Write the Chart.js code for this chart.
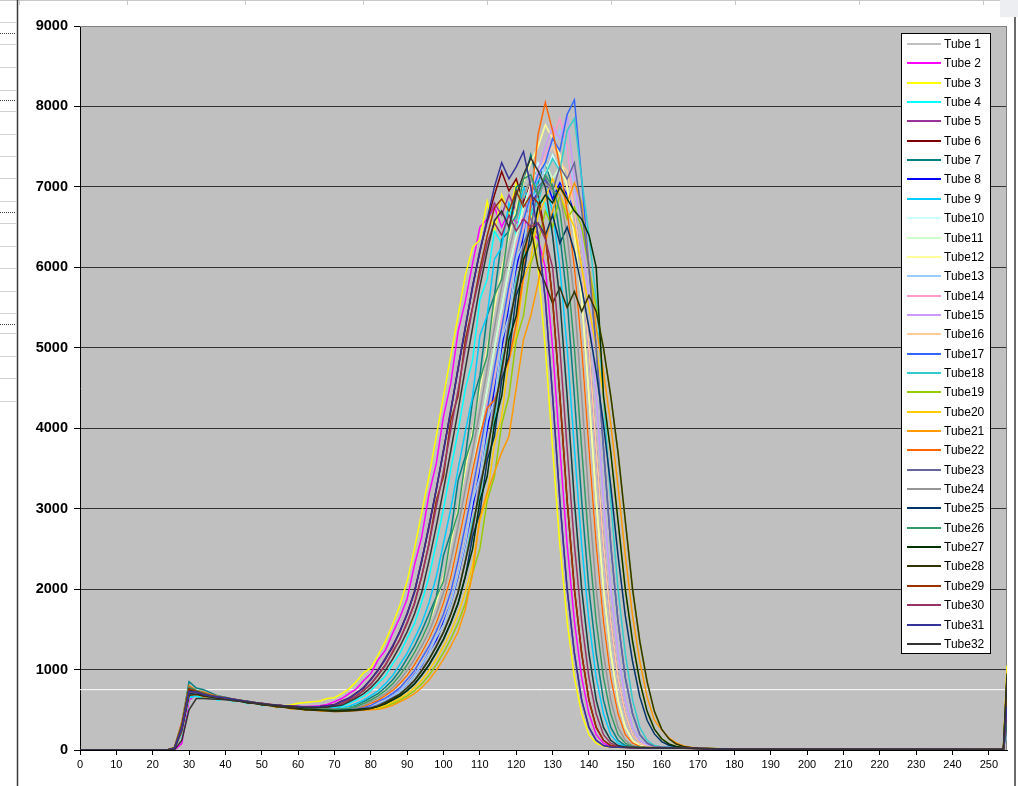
<!DOCTYPE html>
<html>
<head>
<meta charset="utf-8">
<title>Tube profiles</title>
<script src="https://cdn.jsdelivr.net/npm/chart.js@4.4.1/dist/chart.umd.min.js"></script>
<style>
  html, body { margin: 0; padding: 0; background: #fff; }
  #wrap { position: relative; width: 1018px; height: 786px; }
</style>
</head>
<body>
<div id="wrap"><canvas id="chart" width="1018" height="786"></canvas></div>
<script>
// ---------- data ----------
// channel positions shared by every tube
const bins = [0,
  24, 26, 28, 30, 32, 34, 36, 38, 40, 42, 44,
  46, 48, 50, 52, 54, 56, 58, 60, 62, 64, 66,
  68, 70, 72, 74, 76, 78, 80, 82, 84, 86,
  88, 90, 92, 94, 96, 98, 100, 102, 104, 106,
  108, 110, 112, 114, 116, 118, 120, 122, 124, 126,
  128, 130, 132, 134, 136, 138, 140, 142, 144, 146,
  148, 150, 152, 154, 156, 158, 160, 162, 164, 166,
  168, 170,
  180, 254, 255];

const tube01 = [0,
  0, 15, 240, 690, 700, 675, 665, 650, 640, 625, 610,
  600, 585, 570, 560, 555, 545, 535, 525, 520, 515, 510,
  505, 510, 505, 520, 525, 560, 590, 650, 690, 780,
  860, 1000, 1120, 1300, 1460, 1700, 1950, 2370, 2760, 3260,
  3700, 4240, 4720, 5270, 5740, 6220, 6560, 6880, 7050, 6900,
  7100, 6900, 6850, 6400, 5600, 4400, 3100, 2000, 1200, 620,
  280, 120, 55, 38, 33, 30, 28, 27, 25, 24,
  22, 20,
  10, 5, 400];
const tube02 = [0,
  0, 0, 80, 620, 690, 670, 665, 650, 645, 630, 610,
  600, 590, 575, 565, 560, 550, 545, 540, 540, 545, 550,
  565, 600, 640, 700, 760, 860, 950, 1120, 1240, 1450,
  1650, 1880, 2300, 2650, 3180, 3560, 4150, 4560, 5200, 5580,
  6050, 6500, 6600, 6750, 6500, 6700, 6550, 6600, 6450, 6350,
  6000, 5000, 3750, 2550, 1600, 900, 450, 190, 85, 45,
  36, 33, 30, 28, 27, 26, 25, 24, 23, 22,
  21, 20,
  10, 4, 300];
const tube03 = [0,
  0, 20, 260, 690, 700, 670, 660, 650, 640, 630, 605,
  600, 590, 570, 560, 560, 550, 560, 580, 590, 600, 610,
  640, 650, 700, 760, 850, 960, 1020, 1180, 1350, 1560,
  1800, 2100, 2500, 2950, 3400, 3900, 4400, 4900, 5400, 5900,
  6250, 6340, 6820, 6430, 6900, 6650, 7050, 6800, 6700, 6000,
  5000, 3750, 2550, 1600, 900, 450, 190, 85, 45, 35,
  32, 30, 28, 27, 26, 25, 24, 23, 22, 21,
  20, 20,
  12, 6, 1050];
const tube04 = [0,
  0, 10, 200, 650, 670, 640, 655, 620, 640, 600, 610,
  575, 590, 550, 565, 530, 545, 520, 530, 505, 525, 510,
  520, 535, 545, 580, 625, 670, 740, 830, 920, 1070,
  1200, 1390, 1570, 1840, 2150, 2570, 3000, 3490, 3960, 4490,
  4850, 5600, 5850, 6450, 6300, 6750, 6400, 6900, 6650, 6850,
  6800, 6400, 5600, 4400, 3100, 2000, 1200, 620, 280, 120,
  55, 38, 33, 30, 28, 27, 26, 25, 24, 22,
  21, 20,
  9, 4, 500];
const tube05 = [0,
  0, 20, 280, 720, 720, 690, 670, 660, 645, 630, 615,
  600, 585, 575, 565, 560, 550, 545, 540, 535, 530, 535,
  545, 560, 600, 650, 700, 780, 870, 1000, 1120, 1300,
  1460, 1700, 1950, 2370, 2760, 3250, 3700, 4240, 4720, 5270,
  5740, 6220, 6560, 6800, 6650, 6900, 6700, 6850, 6600, 6400,
  5600, 4400, 3100, 2000, 1200, 620, 280, 120, 55, 38,
  33, 30, 28, 27, 26, 25, 24, 23, 22, 21,
  20, 19,
  10, 5, 600];
const tube06 = [0,
  0, 25, 300, 740, 720, 690, 675, 660, 650, 635, 620,
  605, 590, 580, 570, 560, 550, 545, 540, 535, 535, 540,
  550, 565, 610, 640, 710, 770, 880, 990, 1140, 1280,
  1480, 1690, 1970, 2340, 2790, 3230, 3730, 4210, 4750, 5240,
  5770, 6190, 6580, 6900, 7190, 6950, 7100, 6800, 7050, 6900,
  6400, 5600, 4400, 3100, 2000, 1200, 620, 280, 120, 55,
  38, 33, 30, 28, 27, 26, 25, 24, 23, 22,
  21, 20,
  10, 5, 700];
const tube07 = [0,
  0, 30, 330, 850, 770, 750, 710, 670, 655, 635, 620,
  605, 590, 575, 565, 550, 545, 535, 530, 520, 515, 510,
  515, 510, 520, 525, 555, 600, 650, 700, 780, 870,
  990, 1140, 1290, 1480, 1690, 1900, 2420, 2700, 3350, 3650,
  4350, 4650, 5400, 5650, 6350, 6450, 7000, 7050, 7400, 7050,
  7300, 7000, 6400, 5600, 4400, 3100, 2000, 1200, 620, 280,
  120, 55, 38, 33, 30, 28, 27, 25, 24, 22,
  21, 20,
  10, 5, 450];
const tube08 = [0,
  0, 15, 230, 700, 700, 680, 660, 655, 640, 625, 610,
  595, 585, 570, 560, 545, 545, 530, 525, 515, 510, 505,
  505, 500, 505, 510, 515, 525, 540, 580, 620, 675,
  740, 820, 935, 1050, 1220, 1370, 1590, 1820, 2160, 2560,
  3020, 3470, 3980, 4470, 5000, 5500, 5990, 6380, 6750, 6950,
  7100, 6850, 7050, 6900, 6700, 6000, 5000, 3750, 2550, 1600,
  900, 450, 190, 85, 45, 36, 32, 29, 27, 25,
  23, 21,
  10, 5, 350];
const tube09 = [0,
  0, 10, 210, 660, 680, 670, 655, 640, 630, 615, 605,
  590, 580, 565, 555, 545, 540, 530, 520, 515, 510, 510,
  515, 520, 525, 545, 580, 620, 675, 735, 825, 925,
  1065, 1205, 1385, 1575, 1830, 2150, 2570, 3000, 3490, 3960,
  4400, 5150, 5400, 6100, 6250, 6800, 6600, 7000, 6750, 7100,
  7000, 6700, 6000, 5000, 3750, 2550, 1600, 900, 450, 190,
  85, 45, 36, 32, 29, 27, 26, 25, 23, 22,
  21, 20,
  9, 4, 550];
const tube10 = [0,
  0, 15, 240, 690, 690, 670, 660, 650, 640, 620, 610,
  595, 585, 570, 560, 550, 540, 535, 525, 520, 515, 510,
  505, 505, 508, 512, 520, 540, 580, 620, 670, 740,
  820, 930, 1060, 1210, 1380, 1580, 1830, 2150, 2570, 3010,
  3480, 3970, 4480, 4990, 5500, 5980, 6390, 6740, 7025, 7300,
  7150, 7400, 7200, 6700, 6000, 5000, 3750, 2550, 1600, 900,
  450, 190, 85, 45, 36, 32, 29, 27, 25, 23,
  22, 20,
  9, 4, 250];
const tube11 = [0,
  0, 15, 250, 700, 700, 675, 665, 650, 640, 625, 610,
  600, 580, 570, 560, 550, 545, 535, 525, 520, 512, 508,
  505, 500, 510, 515, 520, 545, 575, 625, 665, 745,
  815, 940, 1050, 1220, 1370, 1590, 1820, 2160, 2560, 3020,
  3470, 3980, 4470, 5000, 5500, 5990, 6380, 6750, 7025, 7200,
  7300, 7100, 7250, 7000, 6400, 5600, 4400, 3100, 2000, 1200,
  620, 280, 120, 55, 38, 33, 30, 28, 26, 24,
  22, 20,
  10, 5, 300];
const tube12 = [0,
  0, 20, 260, 710, 700, 680, 665, 650, 645, 625, 615,
  600, 585, 575, 560, 555, 545, 535, 530, 520, 515, 510,
  510, 505, 515, 520, 540, 580, 620, 675, 735, 825,
  930, 1060, 1210, 1380, 1580, 1830, 2150, 2570, 3010, 3480,
  3970, 4480, 5000, 5500, 5980, 6390, 6740, 7050, 7300, 7500,
  7770, 7600, 7400, 7000, 6400, 5600, 4400, 3100, 2000, 1200,
  620, 280, 120, 55, 38, 33, 30, 28, 26, 24,
  22, 20,
  10, 5, 650];
const tube13 = [0,
  0, 15, 230, 680, 710, 660, 675, 635, 650, 610, 620,
  590, 595, 560, 570, 540, 550, 520, 530, 505, 515, 500,
  505, 505, 505, 507, 512, 520, 540, 578, 622, 672,
  738, 822, 930, 1060, 1210, 1400, 1560, 1825, 2180, 2565,
  3100, 3400, 4100, 4350, 5100, 5400, 6100, 6300, 6850, 6950,
  7300, 7500, 7700, 7450, 7000, 6400, 5600, 4400, 3100, 2000,
  1200, 620, 280, 120, 55, 38, 33, 30, 27, 25,
  23, 21,
  10, 5, 200];
const tube14 = [0,
  0, 10, 220, 680, 690, 670, 660, 650, 635, 620, 610,
  595, 580, 570, 560, 550, 540, 530, 525, 520, 512, 508,
  505, 505, 505, 510, 515, 525, 555, 600, 645, 700,
  775, 870, 990, 1130, 1290, 1470, 1690, 1960, 2350, 2780,
  3300, 3650, 4300, 4650, 5350, 5650, 6300, 6500, 7000, 7100,
  7400, 7600, 7850, 7500, 6700, 6000, 5000, 3750, 2550, 1600,
  900, 450, 190, 85, 45, 36, 32, 29, 27, 25,
  23, 21,
  10, 5, 450];
const tube15 = [0,
  0, 15, 240, 690, 705, 670, 670, 640, 650, 615, 610,
  590, 595, 560, 565, 540, 550, 520, 530, 510, 520, 505,
  505, 508, 505, 515, 520, 530, 550, 610, 640, 710,
  770, 880, 980, 1140, 1280, 1480, 1680, 1970, 2340, 2790,
  3230, 3730, 4210, 4750, 5240, 5770, 6190, 6590, 6900, 7200,
  7500, 7750, 7600, 7900, 7100, 6400, 5600, 4400, 3100, 2000,
  1200, 620, 280, 120, 55, 38, 33, 30, 27, 25,
  23, 21,
  10, 5, 500];
const tube16 = [0,
  0, 20, 250, 700, 705, 680, 665, 655, 640, 630, 610,
  600, 590, 575, 565, 550, 545, 535, 525, 520, 515, 510,
  505, 505, 510, 510, 518, 525, 560, 600, 650, 700,
  780, 870, 1000, 1120, 1300, 1460, 1700, 1950, 2360, 2770,
  3250, 3710, 4230, 4730, 5260, 5750, 6210, 6570, 6900, 7150,
  7350, 7500, 7300, 7200, 6700, 6000, 5000, 3750, 2550, 1600,
  900, 450, 190, 85, 45, 36, 32, 29, 27, 25,
  23, 21,
  10, 5, 350];
const tube17 = [0,
  0, 15, 230, 690, 700, 680, 660, 650, 640, 620, 610,
  595, 580, 570, 560, 550, 540, 530, 525, 518, 512, 505,
  505, 505, 505, 512, 515, 528, 555, 605, 645, 705,
  775, 875, 990, 1135, 1290, 1475, 1690, 1965, 2350, 2785,
  3240, 3725, 4220, 4745, 5250, 5765, 6200, 6585, 6900, 7150,
  7300, 7600, 7450, 7900, 8080, 7100, 6000, 5000, 3750, 2550,
  1600, 900, 450, 190, 85, 45, 36, 32, 29, 26,
  24, 22,
  10, 5, 400];
const tube18 = [0,
  0, 20, 250, 700, 700, 680, 665, 655, 640, 625, 612,
  600, 585, 572, 560, 552, 542, 532, 525, 518, 510, 505,
  505, 505, 505, 505, 510, 515, 525, 555, 600, 645,
  700, 775, 870, 990, 1130, 1290, 1470, 1690, 1960, 2350,
  2850, 3150, 3800, 4100, 4850, 5150, 5850, 6100, 6700, 6800,
  7150, 7350, 7200, 7700, 7850, 7100, 6400, 5600, 4400, 3100,
  2000, 1200, 620, 280, 120, 55, 38, 33, 30, 27,
  25, 23,
  10, 5, 300];
const tube19 = [0,
  0, 20, 260, 700, 700, 680, 665, 640, 630, 620, 605,
  595, 580, 565, 555, 545, 535, 525, 515, 505, 500, 495,
  490, 485, 490, 490, 495, 500, 512, 520, 540, 578,
  622, 672, 738, 822, 930, 1060, 1210, 1380, 1580, 1825,
  2200, 2500, 3100, 3400, 4050, 4400, 5100, 5400, 6050, 6300,
  6700, 6500, 6900, 6600, 6750, 6500, 6000, 5500, 5000, 4400,
  3700, 2850, 2000, 1350, 850, 480, 260, 140, 75, 45,
  30, 25,
  10, 5, 800];
const tube20 = [0,
  0, 15, 240, 690, 700, 675, 660, 650, 640, 625, 610,
  595, 580, 570, 555, 545, 535, 525, 515, 505, 500, 495,
  495, 490, 490, 495, 495, 505, 515, 525, 555, 600,
  645, 700, 775, 870, 990, 1130, 1290, 1470, 1690, 1960,
  2300, 2850, 3150, 3800, 4150, 4850, 5150, 5850, 6100, 6650,
  6850, 7100, 6900, 6700, 6500, 6000, 5500, 5000, 4400, 3700,
  2850, 2000, 1350, 850, 480, 260, 140, 75, 45, 30,
  25, 20,
  10, 5, 1000];
const tube21 = [0,
  0, 10, 220, 680, 700, 660, 665, 635, 645, 610, 615,
  580, 590, 555, 560, 530, 540, 510, 515, 495, 500, 485,
  485, 480, 480, 485, 490, 495, 500, 505, 525, 555,
  600, 645, 700, 775, 870, 990, 1130, 1290, 1470, 1750,
  2200, 2900, 3200, 3450, 3700, 3900, 4500, 5100, 5400, 5800,
  6300, 6700, 7000, 6800, 7050, 6800, 6000, 5250, 4700, 4050,
  3280, 2420, 1670, 1100, 660, 370, 250, 150, 90, 50,
  35, 25,
  10, 5, 700];
const tube22 = [0,
  0, 35, 350, 800, 740, 720, 690, 665, 650, 630, 615,
  600, 585, 575, 562, 552, 545, 535, 525, 520, 515, 510,
  510, 505, 510, 515, 525, 545, 580, 620, 675, 740,
  825, 930, 1060, 1210, 1380, 1580, 1830, 2150, 2570, 3010,
  3480, 3900, 4250, 4350, 4600, 4850, 5300, 5900, 6800, 7650,
  8050, 7700, 7250, 6700, 6000, 5000, 3750, 2550, 1600, 900,
  450, 190, 85, 45, 36, 32, 29, 27, 25, 23,
  22, 20,
  10, 5, 450];
const tube23 = [0,
  0, 15, 235, 695, 700, 675, 660, 650, 638, 622, 610,
  598, 582, 570, 560, 550, 540, 530, 522, 515, 510, 505,
  505, 502, 505, 505, 512, 518, 530, 560, 600, 650,
  695, 780, 865, 995, 1125, 1295, 1465, 1695, 1955, 2355,
  2700, 3320, 3650, 4300, 4650, 5350, 5700, 6300, 6500, 7000,
  7100, 6950, 7250, 7100, 7300, 6700, 6000, 5000, 3750, 2550,
  1600, 900, 450, 190, 85, 45, 36, 32, 29, 26,
  24, 22,
  10, 5, 250];
const tube24 = [0,
  0, 15, 240, 695, 700, 678, 662, 652, 640, 625, 612,
  598, 585, 572, 560, 552, 542, 532, 525, 520, 515, 510,
  505, 505, 510, 515, 525, 555, 600, 645, 700, 775,
  870, 990, 1130, 1290, 1470, 1690, 1960, 2350, 2780, 3240,
  3720, 4220, 4740, 5250, 5760, 6200, 6580, 6900, 7100, 6900,
  7050, 6950, 6900, 6400, 5600, 4400, 3100, 2000, 1200, 620,
  280, 120, 55, 38, 33, 30, 28, 26, 24, 23,
  21, 20,
  10, 5, 300];
const tube25 = [0,
  0, 20, 250, 700, 715, 670, 672, 640, 650, 615, 618,
  585, 592, 560, 568, 538, 548, 518, 528, 500, 512, 495,
  500, 495, 498, 500, 505, 512, 520, 540, 578, 622,
  672, 738, 822, 930, 1060, 1210, 1380, 1580, 1825, 2155,
  2650, 2950, 3600, 3900, 4600, 4900, 5650, 5900, 6450, 6550,
  6400, 6650, 6300, 6500, 6200, 5750, 5250, 4700, 4050, 3280,
  2420, 1670, 1100, 660, 370, 200, 105, 60, 40, 30,
  25, 20,
  10, 5, 350];
const tube26 = [0,
  0, 30, 320, 780, 740, 710, 680, 660, 648, 630, 615,
  600, 585, 572, 562, 550, 542, 532, 525, 518, 512, 508,
  510, 505, 512, 520, 540, 578, 622, 672, 738, 822,
  930, 1060, 1210, 1380, 1580, 1900, 2100, 2650, 2950, 3600,
  3900, 4600, 4900, 5650, 5850, 6500, 6650, 7100, 7150, 6900,
  7150, 7000, 6700, 6000, 5000, 3750, 2550, 1600, 900, 450,
  190, 85, 45, 36, 32, 29, 27, 25, 23, 22,
  21, 20,
  10, 5, 400];
const tube27 = [0,
  0, 25, 290, 760, 720, 690, 665, 650, 640, 622, 608,
  592, 580, 568, 555, 545, 535, 525, 515, 508, 502, 498,
  495, 490, 492, 495, 500, 510, 520, 545, 575, 625,
  670, 740, 820, 935, 1055, 1215, 1375, 1585, 1820, 2160,
  2500, 3100, 3400, 4050, 4400, 5100, 5400, 6100, 6300, 6750,
  6900, 6800, 7000, 6850, 6700, 6600, 6400, 6000, 4400, 3700,
  2850, 2000, 1350, 850, 480, 260, 140, 75, 45, 30,
  25, 20,
  10, 5, 900];
const tube28 = [0,
  0, 20, 250, 680, 690, 670, 655, 645, 635, 620, 605,
  590, 578, 565, 552, 542, 530, 520, 510, 500, 495, 490,
  485, 480, 482, 485, 490, 500, 515, 545, 590, 640,
  695, 770, 865, 985, 1125, 1285, 1465, 1685, 1955, 2345,
  2775, 3235, 3715, 4215, 4735, 5245, 5755, 6200, 6500, 6000,
  5800, 5550, 5750, 5500, 5700, 5450, 5650, 5450, 5000, 4400,
  3700, 2850, 2000, 1350, 850, 480, 260, 140, 75, 45,
  30, 22,
  10, 5, 950];
const tube29 = [0,
  0, 25, 300, 760, 730, 700, 675, 660, 648, 632, 618,
  602, 590, 578, 566, 556, 548, 540, 535, 530, 528, 530,
  535, 550, 578, 622, 672, 738, 822, 930, 1060, 1210,
  1380, 1580, 1825, 2155, 2565, 3100, 3400, 4100, 4400, 5100,
  5505, 5980, 6390, 6740, 6850, 6700, 6950, 6750, 6900, 6800,
  6400, 5600, 4400, 3100, 2000, 1200, 620, 280, 120, 55,
  38, 33, 30, 28, 27, 26, 25, 24, 23, 22,
  21, 20,
  10, 5, 600];
const tube30 = [0,
  0, 20, 270, 720, 720, 690, 670, 660, 645, 630, 615,
  600, 588, 575, 565, 555, 548, 540, 535, 530, 530, 535,
  540, 555, 575, 630, 665, 745, 815, 940, 1050, 1225,
  1370, 1590, 1815, 2165, 2555, 3020, 3470, 3980, 4470, 5000,
  5500, 5900, 6300, 6550, 6400, 6650, 6450, 6600, 6500, 6550,
  6350, 6000, 5000, 3750, 2550, 1600, 900, 450, 190, 85,
  45, 35, 31, 28, 27, 26, 25, 24, 23, 22,
  21, 20,
  10, 5, 500];
const tube31 = [0,
  0, 20, 270, 730, 720, 690, 672, 660, 648, 632, 616,
  602, 588, 578, 566, 558, 550, 545, 540, 535, 535, 540,
  550, 560, 605, 645, 705, 775, 875, 990, 1135, 1290,
  1475, 1690, 1965, 2350, 2785, 3240, 3725, 4220, 4745, 5250,
  5765, 6200, 6600, 7000, 7300, 7100, 7250, 7440, 7000, 6400,
  5600, 4400, 3100, 2000, 1200, 620, 280, 120, 55, 38,
  33, 30, 28, 27, 26, 25, 24, 23, 22, 21,
  20, 19,
  10, 5, 550];
const tube32 = [0,
  0, 5, 120, 500, 640, 640, 635, 630, 625, 615, 605,
  595, 585, 572, 562, 552, 545, 538, 530, 528, 525, 528,
  535, 545, 555, 600, 645, 700, 775, 870, 990, 1130,
  1290, 1470, 1690, 1960, 2350, 2780, 3240, 3720, 4220, 4740,
  5250, 5760, 6200, 6580, 6700, 6500, 6900, 7150, 7360, 7200,
  7000, 6400, 5600, 4400, 3100, 2000, 1200, 620, 280, 120,
  55, 38, 33, 30, 28, 27, 26, 25, 24, 22,
  21, 20,
  10, 5, 900];

const tubeSeries = [tube01, tube02, tube03, tube04, tube05, tube06, tube07, tube08,
  tube09, tube10, tube11, tube12, tube13, tube14, tube15, tube16,
  tube17, tube18, tube19, tube20, tube21, tube22, tube23, tube24,
  tube25, tube26, tube27, tube28, tube29, tube30, tube31, tube32];

const tubeNames = ['Tube 1', 'Tube 2', 'Tube 3', 'Tube 4', 'Tube 5', 'Tube 6', 'Tube 7', 'Tube 8',
  'Tube 9', 'Tube10', 'Tube11', 'Tube12', 'Tube13', 'Tube14', 'Tube15', 'Tube16',
  'Tube17', 'Tube18', 'Tube19', 'Tube20', 'Tube21', 'Tube22', 'Tube23', 'Tube24',
  'Tube25', 'Tube26', 'Tube27', 'Tube28', 'Tube29', 'Tube30', 'Tube31', 'Tube32'];

const tubeColors = ['#C0C0C0', '#FF00FF', '#FFFF00', '#00FFFF', '#993399', '#800000', '#008080', '#0000FF',
  '#00CCFF', '#CCFFFF', '#CCFFCC', '#FFFF99', '#99CCFF', '#FF99CC', '#CC99FF', '#FFCC99',
  '#3366FF', '#33CCCC', '#99CC00', '#FFCC00', '#FF9900', '#FF6600', '#666699', '#969696',
  '#003366', '#339966', '#003300', '#333300', '#993300', '#993366', '#333399', '#333333'];

// white reference level across the plot
const refBins = [0, 255];
const refLevel = [750, 750];

const yTicks = [0, 1000, 2000, 3000, 4000, 5000, 6000, 7000, 8000, 9000];

// ---------- page furniture ----------
const FONT = '"Liberation Sans", Arial, sans-serif';
const sheetRows = [22, 44, 67, 90, 111, 134, 156, 178, 201, 223, 246, 268, 291, 313, 333, 356, 378, 401];
const sheetDotted = [33, 100, 212, 324];
const sheetCols = [19, 127, 245, 363, 487, 611, 735, 859, 983];

const sheetPlugin = {
  id: 'sheetFrame',
  beforeDraw(chart) {
    const { ctx, chartArea: a } = chart;
    ctx.save();
    ctx.fillStyle = '#fff';
    ctx.fillRect(0, 0, chart.width, chart.height);

    // bits of the worksheet around the chart object
    ctx.strokeStyle = '#d2d2d2';
    ctx.lineWidth = 1;
    sheetRows.forEach(y => {
      ctx.beginPath(); ctx.moveTo(0, y + 0.5); ctx.lineTo(16, y + 0.5); ctx.stroke();
    });
    ctx.strokeStyle = '#444';
    ctx.setLineDash([1, 1]);
    sheetDotted.forEach(y => {
      ctx.beginPath(); ctx.moveTo(0, y + 0.5); ctx.lineTo(16, y + 0.5); ctx.stroke();
    });
    ctx.setLineDash([]);
    ctx.strokeStyle = '#c8c8c8';
    ctx.beginPath(); ctx.moveTo(0, 0.5); ctx.lineTo(1000, 0.5); ctx.stroke();
    sheetCols.forEach(x => {
      ctx.beginPath(); ctx.moveTo(x + 0.5, 0); ctx.lineTo(x + 0.5, 5); ctx.stroke();
    });
    ctx.fillStyle = '#eceef2';
    ctx.fillRect(1000, 0, 18, 17);
    ctx.strokeStyle = '#3a3a3a';
    ctx.lineWidth = 1.5;
    ctx.beginPath(); ctx.moveTo(17.5, 0); ctx.lineTo(17.5, chart.height); ctx.stroke();
    ctx.beginPath(); ctx.moveTo(1015, 17); ctx.lineTo(1015, chart.height); ctx.stroke();

    // plot area
    ctx.fillStyle = '#C0C0C0';
    ctx.fillRect(a.left, a.top, a.right - a.left, a.bottom - a.top);
    ctx.restore();
  },
  beforeDatasetsDraw(chart) {
    const { ctx, chartArea: a } = chart;
    ctx.save();
    ctx.strokeStyle = '#808080';
    ctx.lineWidth = 1;
    ctx.beginPath();
    ctx.moveTo(a.left, a.top + 0.5);
    ctx.lineTo(a.right - 0.5, a.top + 0.5);
    ctx.lineTo(a.right - 0.5, a.bottom);
    ctx.stroke();
    ctx.restore();
  }
};

const legendPlugin = {
  id: 'tubeLegend',
  afterDraw(chart) {
    const ctx = chart.ctx;
    ctx.save();
    ctx.fillStyle = '#fff';
    ctx.fillRect(901, 33, 90, 621);
    ctx.strokeStyle = '#000';
    ctx.lineWidth = 1;
    ctx.strokeRect(901.5, 33.5, 89, 620);
    ctx.font = '12px ' + FONT;
    ctx.textBaseline = 'middle';
    tubeNames.forEach((name, i) => {
      const y = Math.round(44 + i * 19.35);
      ctx.strokeStyle = tubeColors[i];
      ctx.lineWidth = 2;
      ctx.beginPath(); ctx.moveTo(907, y); ctx.lineTo(941, y); ctx.stroke();
      ctx.fillStyle = '#000';
      ctx.fillText(name, 944, y + 1);
    });
    ctx.restore();
  }
};

// ---------- chart ----------
const datasets = tubeSeries.map((vals, i) => ({
  label: tubeNames[i],
  data: bins.map((x, j) => ({ x: x, y: vals[j] })),
  borderColor: tubeColors[i],
  borderWidth: 1.5,
  pointRadius: 0,
  fill: false,
  tension: 0,
  order: tubeSeries.length - i   // later tubes drawn on top
}));
datasets.push({
  label: 'level',
  data: refBins.map((x, j) => ({ x: x, y: refLevel[j] })),
  borderColor: '#ffffff',
  borderWidth: 1,
  pointRadius: 0,
  fill: false,
  order: 100
});

new Chart(document.getElementById('chart'), {
  type: 'line',
  data: { datasets },
  options: {
    responsive: false,
    animation: false,
    devicePixelRatio: 1,
    layout: { padding: { left: 0, right: 11, top: 26, bottom: 0 } },
    plugins: { legend: { display: false }, tooltip: { enabled: false } },
    scales: {
      x: {
        type: 'linear',
        min: 0,
        max: 255,
        ticks: {
          stepSize: 10,
          includeBounds: false,
          autoSkip: false,
          maxRotation: 0,
          color: '#000',
          padding: 3,
          font: { family: FONT, size: 11 },
          callback: v => String(v)
        },
        grid: { drawOnChartArea: false, drawTicks: true, tickLength: 5, tickColor: '#000' },
        border: { color: '#000', width: 1 },
        afterFit(s) { s.height = 36; }
      },
      y: {
        min: 0,
        max: 9000,
        afterBuildTicks(s) { s.ticks = yTicks.map(v => ({ value: v })); },
        ticks: {
          color: '#000',
          padding: 6,
          font: { family: FONT, size: 14.5, weight: 'bold' },
          callback: v => String(v)
        },
        grid: {
          color: c => (c.tick && c.tick.value === 9000 ? '#808080' : '#333333'),
          lineWidth: 1,
          tickLength: 6,
          tickColor: '#000'
        },
        border: { color: '#000', width: 1 },
        afterFit(s) { s.width = 80; }
      }
    }
  },
  plugins: [sheetPlugin, legendPlugin]
});
</script>
</body>
</html>
